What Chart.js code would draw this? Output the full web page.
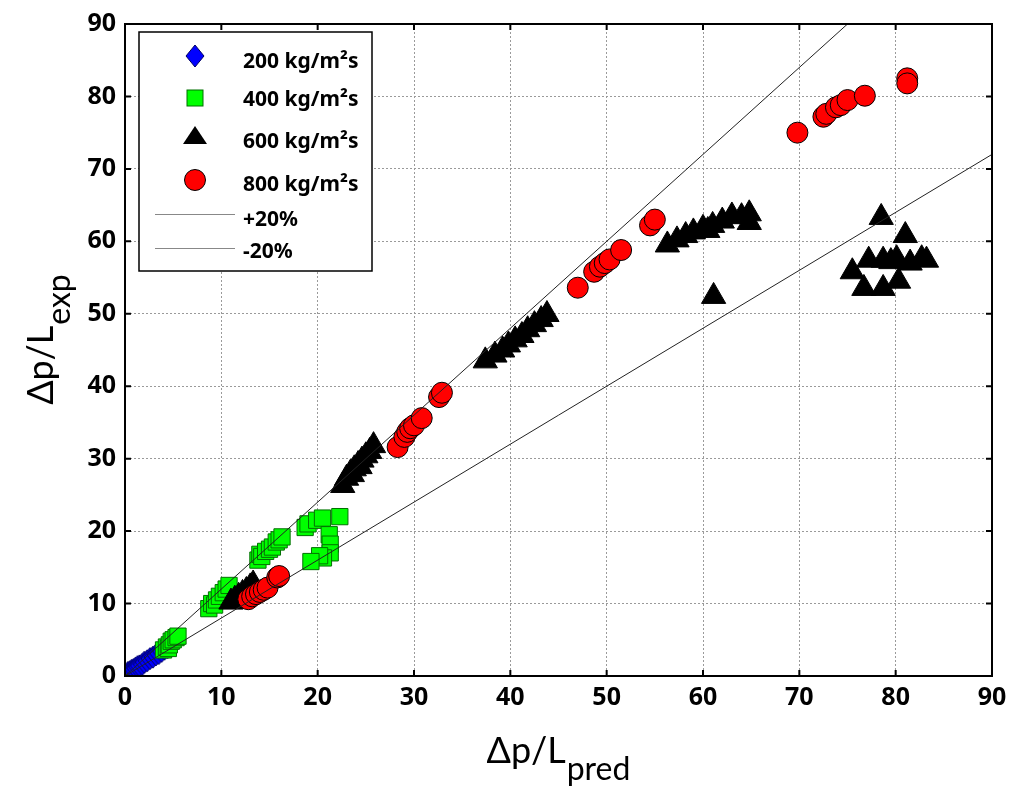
<!DOCTYPE html>
<html>
<head>
<meta charset="utf-8">
<script src="https://cdn.jsdelivr.net/npm/chart.js@4/dist/chart.umd.min.js"></script>
<style>
  html, body { margin: 0; padding: 0; background: #fff; }
  #wrap { width: 1014px; height: 790px; }
</style>
</head>
<body>
<div id="wrap"><canvas id="pressureChart" width="1014" height="790"></canvas></div>
<script>
// --- data ---
const seriesLabels = ['200 kg/m²s', '400 kg/m²s', '600 kg/m²s', '800 kg/m²s'];
const lineLabels = ['+20%', '-20%'];
const tickValues = [0, 10, 20, 30, 40, 50, 60, 70, 80, 90];

const blueX = [0.3, 0.5, 0.7, 0.9, 1.1, 1.3, 1.5, 1.8, 2.0, 2.3, 2.6, 2.9, 3.2, 3.5, 3.8, 4.1, 4.4, 4.7];
const blueY = [0.5, 0.6, 0.8, 0.9, 1.1, 1.3, 1.4, 1.6, 1.9, 2.1, 2.4, 2.6, 2.9, 3.1, 3.4, 3.7, 3.9, 4.2];

const greenX = [4.0, 4.3, 4.5, 4.6, 4.8, 5.0, 5.3, 5.5,
                8.7, 9.0, 9.3, 9.5, 9.8, 10.2, 10.5, 10.8,
                13.8, 14.0, 14.2, 14.6, 15.0, 15.3, 15.7, 16.0, 16.3,
                18.7, 19.0, 19.9, 20.5, 22.3, 21.2, 21.3, 21.3, 20.6, 20.2, 19.3];
const greenY = [3.6, 4.0, 3.8, 4.3, 4.8, 5.0, 5.3, 5.5,
                9.3, 10.0, 9.8, 10.5, 11.0, 11.5, 12.0, 12.5,
                16.0, 16.8, 16.5, 17.2, 17.5, 17.8, 18.5, 18.8, 19.2,
                20.5, 21.0, 21.5, 21.8, 22.0, 19.5, 18.2, 17.0, 16.3, 16.6, 15.8];

const blackX = [11.0, 11.4, 11.8, 12.2, 12.6, 13.0, 13.3,
                22.6, 23.0, 23.4, 23.6, 23.8, 24.2, 24.4, 24.6, 25.0, 25.4, 25.8,
                37.4, 38.4, 39.2, 39.8, 40.5, 41.2, 41.8, 42.5, 43.2, 43.8,
                56.3, 57.3, 58.2, 59.0, 60.0, 60.5, 61.0, 62.0, 63.0, 64.0, 64.8, 64.8,
                61.1,
                78.5, 81.0, 77.2, 78.7, 79.5, 80.1, 81.5, 82.7, 83.2, 75.5, 76.7, 78.7, 80.3];
const blackY = [10.2, 10.6, 11.0, 11.4, 11.8, 12.3, 12.7,
                26.3, 27.3, 28.0, 27.8, 28.6, 29.2, 28.9, 29.8, 30.4, 31.0, 31.8,
                43.5, 44.3, 45.0, 45.7, 46.4, 47.0, 47.8, 48.5, 49.2, 49.9,
                59.5, 60.2, 60.8, 61.3, 61.8, 61.5, 62.2, 62.8, 63.5, 63.4, 63.8, 62.6,
                52.4,
                63.3, 60.8, 57.4, 57.4, 57.2, 57.6, 57.0, 57.6, 57.4, 55.8, 53.5, 53.5, 54.5];

const redX = [12.8, 13.2, 13.6, 14.0, 14.4, 14.8, 15.8, 16.0,
              28.3, 29.0, 29.3, 29.6, 30.0, 30.8, 32.6, 32.9,
              47.0, 48.7, 49.3, 49.8, 50.3, 51.5, 54.5, 55.0,
              69.8, 72.5, 72.8, 73.8, 74.3, 75.0, 76.8, 81.2, 81.2];
const redY = [10.6, 11.0, 11.3, 11.6, 11.9, 12.2, 13.6, 13.8,
              31.6, 33.0, 33.7, 34.2, 34.6, 35.6, 38.5, 39.1,
              53.6, 55.8, 56.5, 57.0, 57.5, 58.8, 62.2, 63.0,
              75.0, 77.2, 77.6, 78.5, 78.8, 79.5, 80.1, 82.5, 81.8];

// +/-20% band end points
const plusX = [0, 75];
const plusY = [0, 90];
const minusX = [0, 90];
const minusY = [0, 72];

function pairs(xs, ys) {
    return xs.map((x, i) => ({ x: x, y: ys[i] }));
}

// tall diamond marker
const diamond = document.createElement('canvas');
diamond.width = 22;
diamond.height = 24;
(function() {
    const c = diamond.getContext('2d');
    c.beginPath();
    c.moveTo(11, 1); c.lineTo(20, 12); c.lineTo(11, 23); c.lineTo(2, 12);
    c.closePath();
    c.fillStyle = '#0000ff';
    c.fill();
    c.lineWidth = 1;
    c.strokeStyle = '#000060';
    c.stroke();
})();

const FONT = '"Noto Sans", "Open Sans", "DejaVu Sans", sans-serif';
const TITLE_FONT = 'Lato, "Open Sans", sans-serif';

// frame, inner ticks, legend and axis titles
const decorations = {
    id: 'decorations',
    afterDraw(chart) {
        const ctx = chart.ctx;
        const a = chart.chartArea;
        const xs = chart.scales.x, ys = chart.scales.y;
        ctx.save();

        // box
        ctx.strokeStyle = '#000';
        ctx.lineWidth = 2;
        ctx.strokeRect(a.left, a.top, a.right - a.left, a.bottom - a.top);

        // inward tick marks
        ctx.beginPath();
        tickValues.forEach(v => {
            const px = xs.getPixelForValue(v);
            ctx.moveTo(px, a.bottom); ctx.lineTo(px, a.bottom - 6);
            ctx.moveTo(px, a.top); ctx.lineTo(px, a.top + 6);
            const py = ys.getPixelForValue(v);
            ctx.moveTo(a.left, py); ctx.lineTo(a.left + 6, py);
            ctx.moveTo(a.right, py); ctx.lineTo(a.right - 6, py);
        });
        ctx.stroke();

        // legend box
        const lx = 139, ly = 32, lw = 233, lh = 239;
        ctx.fillStyle = '#fff';
        ctx.fillRect(lx, ly, lw, lh);
        ctx.lineWidth = 1.5;
        ctx.strokeStyle = '#000';
        ctx.strokeRect(lx, ly, lw, lh);

        const mx = 195;
        ctx.drawImage(diamond, mx - 11, 56 - 12);
        ctx.fillStyle = '#00ff00';
        ctx.strokeStyle = '#007000';
        ctx.lineWidth = 1;
        ctx.fillRect(mx - 8, 98 - 8, 16, 16);
        ctx.strokeRect(mx - 8, 98 - 8, 16, 16);
        ctx.fillStyle = '#000';
        ctx.beginPath();
        ctx.moveTo(mx, 126); ctx.lineTo(mx + 12, 144); ctx.lineTo(mx - 12, 144);
        ctx.closePath();
        ctx.fill();
        ctx.fillStyle = '#ff0000';
        ctx.strokeStyle = '#000';
        ctx.beginPath();
        ctx.arc(mx, 180, 10.5, 0, Math.PI * 2);
        ctx.fill();
        ctx.stroke();
        ctx.strokeStyle = '#888';
        ctx.lineWidth = 1;
        ctx.beginPath();
        ctx.moveTo(155, 214.5); ctx.lineTo(235, 214.5);
        ctx.moveTo(155, 248.5); ctx.lineTo(235, 248.5);
        ctx.stroke();

        ctx.fillStyle = '#000';
        ctx.font = 'bold 21px ' + FONT;
        ctx.textAlign = 'left';
        ctx.textBaseline = 'middle';
        const rows = [62, 100, 142, 185];
        seriesLabels.forEach((t, i) => ctx.fillText(t, 243, rows[i]));
        ctx.fillText(lineLabels[0], 243, 220);
        ctx.fillText(lineLabels[1], 243, 252);

        // axis titles
        const main = 'Δp/L';
        ctx.textBaseline = 'alphabetic';
        ctx.font = '36px ' + TITLE_FONT;
        const wMain = ctx.measureText(main).width;
        ctx.font = '32px ' + TITLE_FONT;
        const wSubX = ctx.measureText('pred').width;
        const wSubY = ctx.measureText('exp').width;

        let start = 558 - (wMain + wSubX) / 2;
        ctx.font = '36px ' + TITLE_FONT;
        ctx.fillText(main, start, 763);
        ctx.font = '32px ' + TITLE_FONT;
        ctx.fillText('pred', start + wMain + 1, 780);

        ctx.translate(40, 340);
        ctx.rotate(-Math.PI / 2);
        start = -(wMain + wSubY) / 2;
        ctx.font = '36px ' + TITLE_FONT;
        ctx.fillText(main, start, 13);
        ctx.font = '32px ' + TITLE_FONT;
        ctx.fillText('exp', start + wMain + 1, 30);

        ctx.restore();
    }
};

const ctx = document.getElementById('pressureChart').getContext('2d');
new Chart(ctx, {
    type: 'scatter',
    data: {
        datasets: [
            {
                label: lineLabels[0],
                data: pairs(plusX, plusY),
                showLine: true,
                borderColor: '#222',
                borderWidth: 1,
                pointRadius: 0,
                order: 0
            },
            {
                label: lineLabels[1],
                data: pairs(minusX, minusY),
                showLine: true,
                borderColor: '#222',
                borderWidth: 1,
                pointRadius: 0,
                order: 0
            },
            {
                label: seriesLabels[3],
                data: pairs(redX, redY),
                pointStyle: 'circle',
                pointRadius: 10.5,
                backgroundColor: '#ff0000',
                borderColor: '#000',
                borderWidth: 1,
                order: 1
            },
            {
                label: seriesLabels[2],
                data: pairs(blackX, blackY),
                pointStyle: 'triangle',
                pointRadius: 14,
                backgroundColor: '#000',
                borderColor: '#000',
                borderWidth: 1,
                order: 2
            },
            {
                label: seriesLabels[1],
                data: pairs(greenX, greenY),
                pointStyle: 'rect',
                pointRadius: 11.5,
                backgroundColor: '#00ff00',
                borderColor: '#007000',
                borderWidth: 1,
                order: 3
            },
            {
                label: seriesLabels[0],
                data: pairs(blueX, blueY),
                pointStyle: diamond,
                pointRadius: 11,
                backgroundColor: '#0000ff',
                borderColor: '#000060',
                order: 4
            }
        ]
    },
    options: {
        responsive: false,
        animation: false,
        events: [],
        layout: { padding: { top: 16, right: 22, left: 0, bottom: 0 } },
        plugins: {
            legend: { display: false },
            tooltip: { enabled: false }
        },
        scales: {
            x: {
                type: 'linear',
                min: 0,
                max: 90,
                afterFit: s => { s.height = 114; },
                ticks: {
                    stepSize: 10,
                    color: '#000',
                    padding: 7,
                    font: { family: FONT, weight: 'bold', size: 25 }
                },
                grid: { color: '#9a9a9a', lineWidth: 1, drawTicks: false },
                border: { display: true, color: '#000', width: 2, dash: [2, 2] }
            },
            y: {
                type: 'linear',
                min: 0,
                max: 90,
                afterFit: s => { s.width = 125; },
                ticks: {
                    stepSize: 10,
                    color: '#000',
                    padding: 9,
                    font: { family: FONT, weight: 'bold', size: 25 }
                },
                grid: { color: '#9a9a9a', lineWidth: 1, drawTicks: false },
                border: { display: true, color: '#000', width: 2, dash: [2, 2] }
            }
        }
    },
    plugins: [decorations]
});
</script>
</body>
</html>
